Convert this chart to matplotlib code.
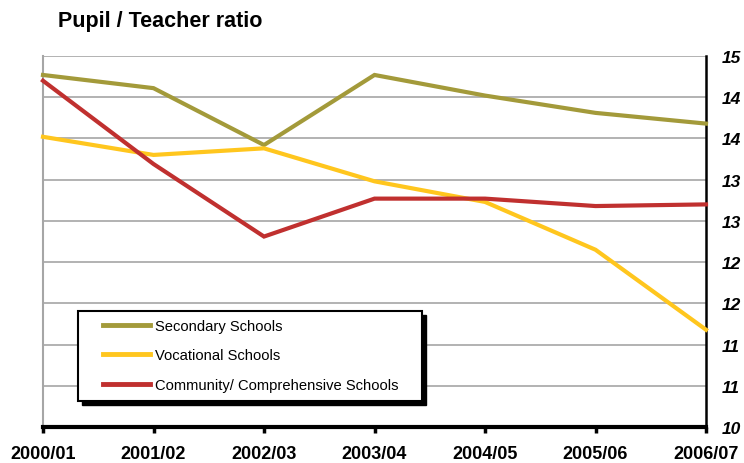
import matplotlib
matplotlib.use("Agg")
import matplotlib.pyplot as plt
from matplotlib.patches import Rectangle

plt.rcParams['font.family'] = ['Liberation Sans', 'DejaVu Sans']

years = ["2000/01", "2001/02", "2002/03", "2003/04", "2004/05", "2005/06", "2006/07"]
secondary = [14.27, 14.11, 13.42, 14.27, 14.02, 13.81, 13.68]
vocational = [13.52, 13.30, 13.38, 12.98, 12.73, 12.15, 11.18]
community = [14.20, 13.19, 12.31, 12.77, 12.77, 12.68, 12.70]
series_names = ["Secondary Schools", "Vocational Schools", "Community/ Comprehensive Schools"]
colors = ["#A39A3A", "#FFC61E", "#C0302F"]
ytick_vals = [10, 10.5, 11, 11.5, 12, 12.5, 13, 13.5, 14, 14.5]
ytick_labels = ["10", "11", "11", "12", "12", "13", "13", "14", "14", "15"]

fig = plt.figure(figsize=(7.44, 4.64), dpi=100)
ax = fig.add_axes([43/744, 1-428/464, (706-43)/744, (428-57)/464])

x = list(range(len(years)))
for data, name, c in zip([secondary, vocational, community], series_names, colors):
    ax.plot(x, data, color=c, lw=3.0, label=name, solid_joinstyle='miter', zorder=3, clip_on=False)

ax.set_xlim(0, len(years)-1)
ax.set_ylim(10, 14.5)
ax.set_yticks(ytick_vals)
ax.set_yticklabels(ytick_labels)
ax.yaxis.tick_right()
ax.tick_params(axis='y', length=0, pad=11, labelsize=12.5)
for lab in ax.get_yticklabels():
    lab.set_fontweight('bold'); lab.set_fontstyle('italic')
ax.set_xticks(x)
ax.set_xticklabels(years)
ax.tick_params(axis='x', length=4, width=2.5, pad=9, labelsize=13, direction='out')
for lab in ax.get_xticklabels():
    lab.set_fontweight('bold')

for v in ytick_vals:
    ax.axhline(v, color='#A6A6A6', lw=1.2, zorder=1)

ax.spines['top'].set_visible(False)
ax.spines['left'].set_color('#A6A6A6')
ax.spines['left'].set_linewidth(1.5)
ax.spines['right'].set_color('black')
ax.spines['right'].set_linewidth(1.8)
ax.spines['bottom'].set_color('black')
ax.spines['bottom'].set_linewidth(3)
ax.spines['bottom'].set_zorder(4)

# legend box with shadow
x0, y0 = (78-43)/663, (428-402)/371
w, h = (422-78)/663, (402-312)/371
ax.add_patch(Rectangle((x0+4/663, y0-4/371), w, h, transform=ax.transAxes,
                       facecolor='black', edgecolor='black', zorder=5))
ax.add_patch(Rectangle((x0, y0), w, h, transform=ax.transAxes,
                       facecolor='white', edgecolor='black', lw=1.5, zorder=6))
leg = ax.legend(loc='upper left', bbox_to_anchor=((103-43)/663, (428-320)/371),
                frameon=False, borderpad=0, borderaxespad=0, handlelength=3.2,
                handletextpad=0.3, labelspacing=1.05, prop={'size': 10.6})
leg.set_zorder(7)
for line in leg.get_lines():
    line.set_linewidth(3.5)

fig.text(58/744, 1-21/464, "Pupil / Teacher ratio", fontsize=15.5, fontweight='bold',
         ha='left', va='center')

fig.savefig("out.png", dpi=100)
